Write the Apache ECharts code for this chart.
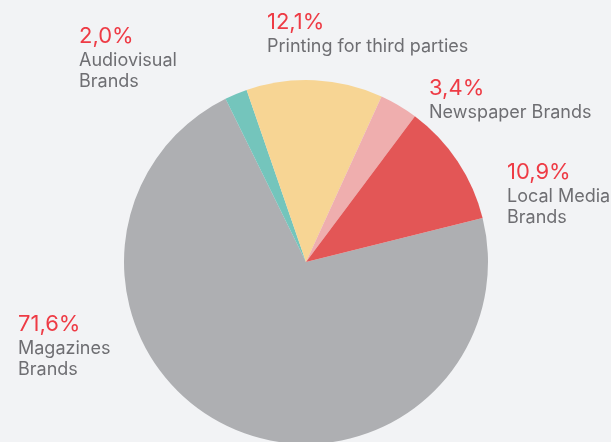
<!DOCTYPE html>
<html>
<head>
<meta charset="utf-8">
<script src="https://cdn.jsdelivr.net/npm/echarts@6/dist/echarts.min.js"></script>
<style>
  html, body { margin: 0; padding: 0; background: #f2f3f5; }
  #chart { width: 611px; height: 442px; }
</style>
</head>
<body>
<div id="chart"></div>
<script>
// shares in %, clockwise from the red/grey edge
const names = ['Magazines\nBrands', 'Audiovisual\nBrands', 'Printing for third parties', 'Newspaper Brands', 'Local Media\nBrands'];
const values = [71.6, 2.0, 12.1, 3.4, 10.9];
const colors = ['#aeafb2', '#74c5bc', '#f7d594', '#efaeae', '#e35656'];

// where each label block sits (top-left)
const labelPos = [[18, 310], [79, 22], [267, 8], [429, 74], [507, 158]];

const chart = echarts.init(document.getElementById('chart'));

chart.setOption({
    backgroundColor: '#f2f3f5',
    textStyle: { fontFamily: 'Inter' },
    series: [{
        type: 'pie',
        center: [306, 262],
        radius: 182,
        startAngle: 14,
        clockwise: true,
        silent: true,
        animation: false,
        data: values.map((v, i) => ({
            value: v,
            name: names[i],
            itemStyle: { color: colors[i] }
        })),
        label: {
            show: true,
            position: 'inside',
            overflow: 'none',
            formatter: p => `{p|${p.value.toFixed(1).replace('.', ',')}%}\n{n|${p.name.split('\n').join('}\n{n|')}}`,
            rich: {
                p: { fontFamily: 'Inter', fontSize: 22, color: '#ee3b45', lineHeight: 28 },
                n: { fontFamily: 'Inter', fontSize: 18, color: '#6e6e72', lineHeight: 21 }
            },
            align: 'left'
        },
        labelLine: { show: false },
        labelLayout: params => ({
            x: labelPos[params.dataIndex][0],
            y: labelPos[params.dataIndex][1],
            align: 'left',
            verticalAlign: 'top'
        })
    }]
});
</script>
</body>
</html>
